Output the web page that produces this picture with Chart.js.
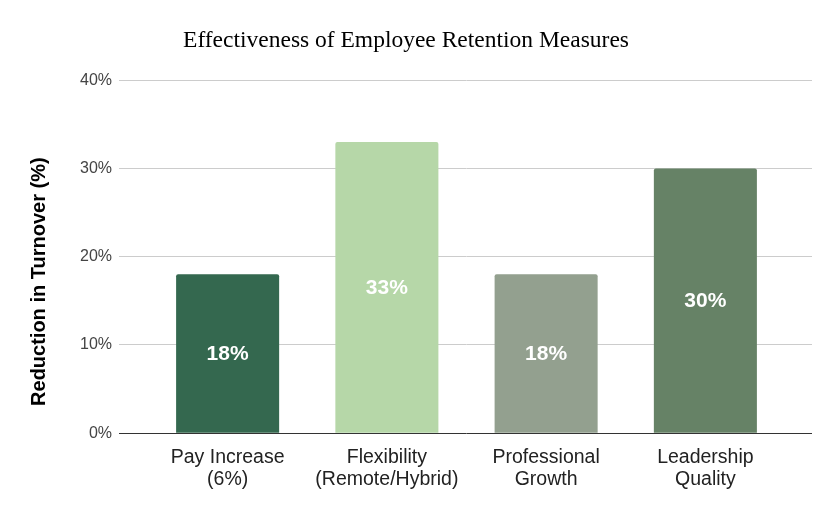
<!DOCTYPE html>
<html>
<head>
<meta charset="utf-8">
<script src="https://cdn.jsdelivr.net/npm/chart.js@4/dist/chart.umd.min.js"></script>
<style>
  html, body { margin: 0; padding: 0; background: #fff; }
  #wrap { width: 838px; height: 517px; position: relative; }
</style>
</head>
<body>
<div id="wrap"><canvas id="chart"></canvas></div>
<script>
// 資料
const categories = [['Pay Increase', '(6%)'], ['Flexibility', '(Remote/Hybrid)'], ['Professional', 'Growth'], ['Leadership', 'Quality']];
const reduction = [18, 33, 18, 30];
const barColors = ['#34684f', '#b6d7a8', '#93a08f', '#668266'];
const yTicks = [0, 10, 20, 30, 40];

// 長條中央的數值標籤
const barLabels = {
    id: 'barLabels',
    afterDatasetsDraw(chart) {
        const c = chart.ctx;
        const meta = chart.getDatasetMeta(0);
        c.save();
        c.fillStyle = '#ffffff';
        c.font = 'bold 21px "Liberation Sans", Arial, sans-serif';
        c.textAlign = 'center';
        c.textBaseline = 'middle';
        meta.data.forEach((bar, i) => {
            const mid = (bar.y + bar.base) / 2;
            c.fillText(reduction[i] + '%', bar.x, mid + 1);
        });
        c.restore();
    }
};

const gridColor = ctx => (ctx.tick && ctx.tick.value === 0) ? '#333333' : '#cccccc';

const ctx = document.getElementById('chart').getContext('2d');
const chart = new Chart(ctx, {
    type: 'bar',
    data: {
        labels: categories,
        datasets: [{
            data: reduction,
            backgroundColor: barColors,
            categoryPercentage: 1,
            barPercentage: 0.647,
            borderRadius: 2,
            borderSkipped: 'bottom'
        }]
    },
    options: {
        responsive: true,
        maintainAspectRatio: false,
        animation: false,
        layout: { padding: { left: 0, right: 26, top: 0, bottom: 21 } },
        plugins: {
            legend: { display: false },
            tooltip: { enabled: false },
            title: {
                display: true,
                text: 'Effectiveness of Employee Retention Measures',
                color: '#000',
                font: { family: '"Liberation Serif", "Times New Roman", serif', size: 23.5, weight: 'normal' },
                padding: { top: 27, bottom: 25 }
            }
        },
        scales: {
            x: {
                grid: { display: false },
                border: { display: false },
                ticks: {
                    color: '#222',
                    padding: 5,
                    maxRotation: 0,
                    font: { family: '"Liberation Sans", Arial, sans-serif', size: 19.5, lineHeight: 1.15 }
                }
            },
            y: {
                min: 0,
                max: 40,
                afterBuildTicks: s => { s.ticks = yTicks.map(v => ({ value: v })); },
                afterFit: s => { s.width = 148; },
                border: { display: false },
                grid: { color: gridColor, tickLength: 29, lineWidth: 1 },
                ticks: {
                    color: '#444',
                    padding: 7,
                    font: { family: '"Liberation Sans", Arial, sans-serif', size: 16 },
                    callback: v => v + '%'
                },
                title: {
                    display: true,
                    // 尾端空白讓標題往下移，對齊原圖
                    text: 'Reduction in Turnover (%)         ',
                    color: '#000',
                    padding: { top: 27, bottom: 0 },
                    font: { family: '"Liberation Sans", Arial, sans-serif', size: 20, weight: 'bold' }
                }
            },
            y2: {
                position: 'right',
                min: 0,
                max: 40,
                afterBuildTicks: s => { s.ticks = yTicks.map(v => ({ value: v })); },
                afterFit: s => { s.width = 27; },
                border: { display: false },
                grid: { color: gridColor, tickLength: 27, drawOnChartArea: false },
                ticks: { display: false }
            }
        }
    },
    plugins: [barLabels]
});
</script>
</body>
</html>
